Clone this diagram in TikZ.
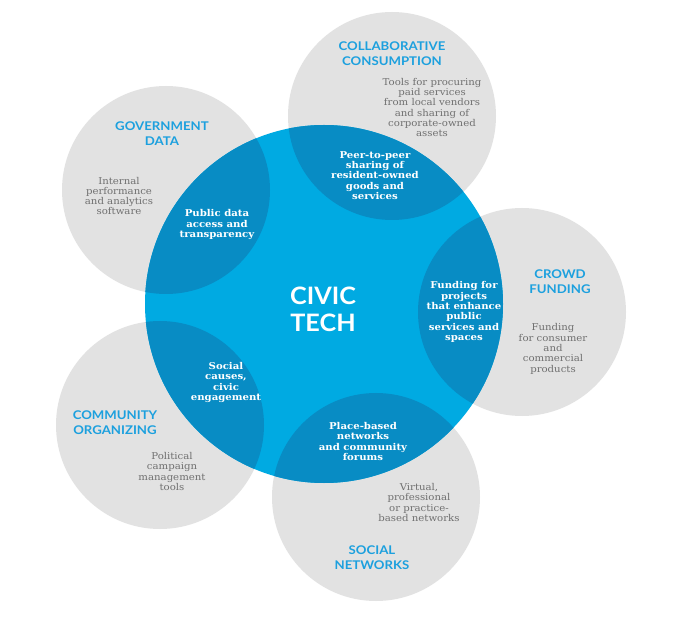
\documentclass[tikz,border=0pt]{standalone}
\usepackage{fontspec}
\setmainfont{DejaVu Serif}
\newfontfamily\bodyfont[FakeStretch=1.08]{DejaVu Serif}
\newfontfamily\headfont[FakeStretch=1.1]{Lato}
\newfontfamily\titlefont[FakeStretch=1.05]{Lato}
\definecolor{graybg}{RGB}{226,226,226}
\definecolor{mainblue}{RGB}{0,170,226}
\definecolor{lensblue}{RGB}{8,140,196}
\definecolor{headblue}{RGB}{28,160,222}
\definecolor{bodygray}{RGB}{112,112,112}
\tikzset{
  outer/.style={circle, fill=graybg, minimum size=208pt, inner sep=0pt},
  heading/.style={align=center, text=headblue, font=\headfont\bfseries\fontsize{12}{15}\selectfont, inner sep=0pt},
  graytext/.style={align=center, text=bodygray, font=\bodyfont\fontsize{9.4}{10.3}\selectfont, inner sep=0pt},
  whitetext/.style={align=center, text=white, font=\bodyfont\bfseries\fontsize{9.4}{10.3}\selectfont, inner sep=0pt},
}
\begin{document}
\begin{tikzpicture}[x=1pt,y=-1pt]
\useasboundingbox (0,0) rectangle (680,617);
\fill[white] (0,0) rectangle (680,617);
% outer circles
\node[outer] (cc) at (392,116) {};
\node[outer] (gd) at (166,190) {};
\node[outer] (cf) at (522,312) {};
\node[outer] (co) at (160,425) {};
\node[outer] (sn) at (376,497) {};
% central circle
\node[circle, fill=mainblue, minimum size=358pt, inner sep=0pt] (ct) at (324,304) {};
% overlap lenses
\begin{scope}
  \clip (324,304) circle[radius=179pt];
  \foreach \p in {(392,116),(166,190),(522,312),(160,425),(376,497)}
    \fill[lensblue] \p circle[radius=104pt];
\end{scope}
% headings
\node[heading] (h1) at (392,53.5) {COLLABORATIVE\\CONSUMPTION};
\node[heading] (h2) at (162,134) {GOVERNMENT\\DATA};
\node[heading] (h3) at (560,281.5) {CROWD\\FUNDING};
\node[heading] (h4) at (115,422.5) {COMMUNITY\\ORGANIZING};
\node[heading] (h5) at (372,557.5) {SOCIAL\\NETWORKS};
% gray texts
\node[graytext] (g1) at (432,107.5) {Tools for procuring\\paid services\\from local vendors\\and sharing of\\corporate-owned\\assets};
\node[graytext] (g2) at (119,196) {Internal\\performance\\and analytics\\software};
\node[graytext] (g3) at (553,349) {Funding\\for consumer\\and\\commercial\\products};
\node[graytext] (g4) at (172,471.5) {Political\\campaign\\management\\tools};
\node[graytext] (g5) at (419,502.5) {Virtual,\\professional\\or practice-\\based networks};
% white texts
\node[whitetext] (w1) at (375,175.5) {Peer-to-peer\\sharing of\\resident-owned\\goods and\\services};
\node[whitetext] (w2) at (217,224.5) {Public data\\access and\\transparency};
\node[whitetext] (w3) at (464,312) {Funding for\\projects\\that enhance\\public\\services and\\spaces};
\node[whitetext] (w4) at (226,382.5) {Social\\causes,\\civic\\engagement};
\node[whitetext] (w5) at (363,441.5) {Place-based\\networks\\and community\\forums};
% centre title
\node[align=center, text=white, font=\titlefont\bfseries\fontsize{24}{27}\selectfont, inner sep=0pt] (title) at (323,309) {CIVIC\\TECH};
\end{tikzpicture}
\end{document}
